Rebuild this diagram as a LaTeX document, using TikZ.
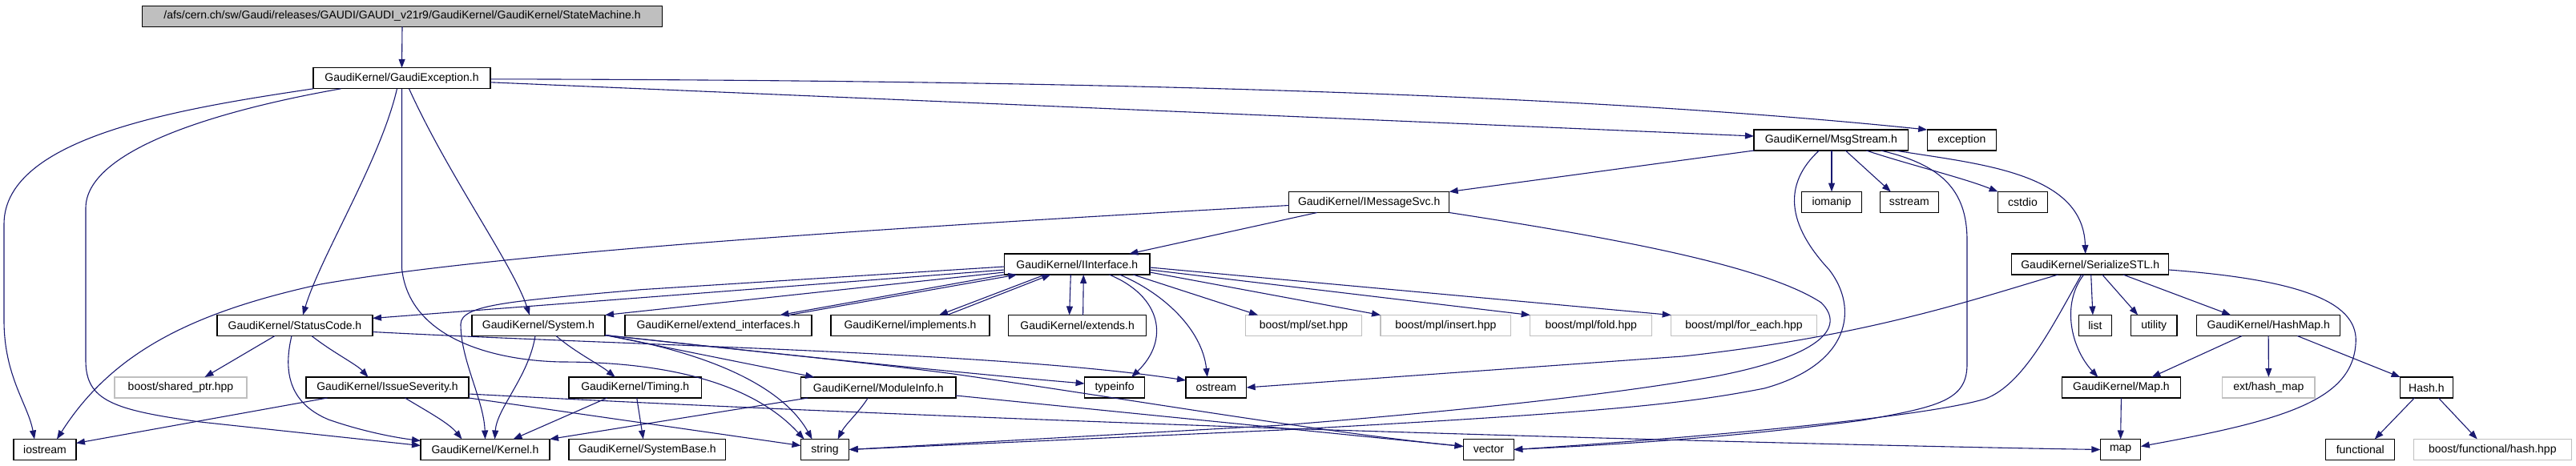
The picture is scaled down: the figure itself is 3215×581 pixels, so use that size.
\documentclass[tikz,border=0pt]{standalone}
\usepackage{fontspec}
\setmainfont{Liberation Sans}
\usetikzlibrary{arrows.meta}
\definecolor{edgec}{RGB}{25,25,112}
\definecolor{grayb}{RGB}{191,191,191}
\begin{document}
\begin{tikzpicture}[x=1pt,y=-1pt,
  box/.style={draw=black,line width=1.1pt,minimum height=26pt,inner sep=0pt,outer sep=0pt,font=\fontsize{14}{16}\selectfont,anchor=center},
  extbox/.style={box,draw=grayb},
  e/.style={draw=edgec,line width=1.1pt,-{Triangle[length=11pt,width=8pt]}},
]
\useasboundingbox (0,0) rectangle (3215,581);
% row 0
\node[box,fill=grayb,minimum width=649pt] (hdr) at (502,20.3) {/afs/cern.ch/sw/Gaudi/releases/GAUDI/GAUDI\_v21r9/GaudiKernel/GaudiKernel/StateMachine.h};
% row A
\node[box,minimum width=221pt] (GE) at (501.5,97.8) {GaudiKernel/GaudiException.h};
% row B
\node[box,minimum width=192.6pt] (MS) at (2285.3,175) {GaudiKernel/MsgStream.h};
\node[box,minimum width=86.3pt] (exc) at (2448.35,175) {exception};
% row C
\node[box,minimum width=200pt] (IMS) at (1708.7,252.5) {GaudiKernel/IMessageSvc.h};
\node[box,minimum width=75pt] (iomanip) at (2286,252.5) {iomanip};
\node[box,minimum width=72.8pt] (sstream) at (2382.8,252.5) {sstream};
\node[box,minimum width=61.8pt] (cstdio) at (2524.5,252.5) {cstdio};
% row D
\node[box,minimum width=181.4pt] (II) at (1344.3,330) {GaudiKernel/IInterface.h};
\node[box,minimum width=196pt] (SS) at (2608.7,330) {GaudiKernel/SerializeSTL.h};
% row E
\node[box,minimum width=194pt] (SC) at (368,406.5) {GaudiKernel/StatusCode.h};
\node[box,minimum width=166pt] (Sys) at (672,406.5) {GaudiKernel/System.h};
\node[box,minimum width=233pt] (EI) at (896.5,406.5) {GaudiKernel/extend\_interfaces.h};
\node[box,minimum width=198pt] (Impl) at (1136,406.5) {GaudiKernel/implements.h};
\node[box,minimum width=171.9pt] (Ext) at (1344.65,406.5) {GaudiKernel/extends.h};
\node[extbox,minimum width=145pt] (mplset) at (1627,406.5) {boost/mpl/set.hpp};
\node[extbox,minimum width=162.7pt] (mplins) at (1804.35,406.5) {boost/mpl/insert.hpp};
\node[extbox,minimum width=152pt] (mplfold) at (1985.7,406.5) {boost/mpl/fold.hpp};
\node[extbox,minimum width=181.6pt] (mplfe) at (2176.5,406.5) {boost/mpl/for\_each.hpp};
\node[box,minimum width=41pt] (list) at (2614.9,406.5) {list};
\node[box,minimum width=57.6pt] (utility) at (2688.2,406.5) {utility};
\node[box,minimum width=179.3pt] (HM) at (2831.15,406.5) {GaudiKernel/HashMap.h};
% row F
\node[extbox,minimum width=165pt] (shp) at (225.5,484) {boost/shared\_ptr.hpp};
\node[box,minimum width=203pt] (IS) at (483.5,484) {GaudiKernel/IssueSeverity.h};
\node[box,minimum width=165.5pt] (Tim) at (792.75,484) {GaudiKernel/Timing.h};
\node[box,minimum width=193.5pt] (MI) at (1096.25,484) {GaudiKernel/ModuleInfo.h};
\node[box,minimum width=75pt] (typeinfo) at (1391.1,484) {typeinfo};
\node[box,minimum width=75.6pt] (ostream) at (1517.8,484) {ostream};
\node[box,minimum width=147.6pt] (Map) at (2647.4,484) {GaudiKernel/Map.h};
\node[extbox,minimum width=115.3pt] (ehm) at (2831.35,484) {ext/hash\_map};
\node[box,minimum width=65.5pt] (Hash) at (3028.35,484) {Hash.h};
% row G
\node[box,minimum width=78pt] (iostream) at (56,561.5) {iostream};
\node[box,minimum width=161pt] (Ker) at (605.5,561.5) {GaudiKernel/Kernel.h};
\node[box,minimum width=195.6pt] (SB) at (807.8,561.5) {GaudiKernel/SystemBase.h};
\node[box,minimum width=60.2pt] (string) at (1029.6,561.5) {string};
\node[box,minimum width=62.8pt] (vector) at (1857.9,561.5) {vector};
\node[box,minimum width=50.4pt] (map) at (2646.6,561.5) {map};
\node[box,minimum width=86.3pt] (functional) at (2945.75,561.5) {functional};
\node[extbox,minimum width=196.9pt] (bfh) at (3110.75,561.5) {boost/functional/hash.hpp};

% ---- edges ----
\draw[e] (hdr.south) -- (GE.north);
% GaudiException
\draw[e] (GE.south west) .. controls (230,135) and (5,170) .. (5,280) -- (5,400) .. controls (5,470) and (35,505) .. ([xshift=-13pt]iostream.north);
\draw[e] ([xshift=-76pt]GE.south) .. controls (260,140) and (107,190) .. (107,260) -- (107,450) .. controls (107,500) and (140,512) .. (250,527) -- ([yshift=5pt]Ker.west);
\draw[e] ([xshift=-6pt]GE.south) .. controls (475,200) and (400,320) .. ([xshift=10pt]SC.north);
\draw[e] (GE.south) -- (501.5,335) .. controls (510,420) and (610,450) .. (700,452) .. controls (860,452) and (950,490) .. ([xshift=-26pt]string.north);
\draw[e] ([xshift=9pt]GE.south) .. controls (560,220) and (640,330) .. ([xshift=-11pt]Sys.north);
\draw[e] ([yshift=-5pt]GE.east) -- ([yshift=5pt]MS.west);
\draw[e] ([yshift=-1pt]GE.east) .. controls (1200,100) and (1900,110) .. (exc.north west);
% MsgStream
\draw[e] (MS.south west) -- (IMS.north east);
\draw[e] ([xshift=0.7pt]MS.south) -- (iomanip.north);
\draw[e] ([xshift=18pt]MS.south) -- ([xshift=-23pt]sstream.north);
\draw[e] ([xshift=44pt]MS.south) .. controls (2380,205) and (2450,222) .. (cstdio.north west);
\draw[e] ([xshift=80pt]MS.south) .. controls (2470,205) and (2600,215) .. ([xshift=-6pt]SS.north);
\draw[e] ([xshift=62pt]MS.south) .. controls (2420,205) and (2455,235) .. (2455,300) -- (2455,455) .. controls (2455,500) and (2420,508) .. (2324,525) .. controls (2150,548) and (2000,556) .. (vector.east);
\draw[e] ([xshift=-15pt]MS.south) .. controls (2225,230) and (2230,280) .. (2283,337) .. controls (2320,385) and (2310,455) .. (2202,485) .. controls (2100,505) and (2000,515) .. (1600,537) -- (string.east);
% IMessageSvc
\draw[e] ([xshift=-65pt]IMS.south) -- ([xshift=65pt]II.north);
\draw[e] ([yshift=-4pt]IMS.west) .. controls (1000,290) and (600,320) .. (400,355) .. controls (240,390) and (140,440) .. ([xshift=15pt]iostream.north);
\draw[e] (IMS.south east) .. controls (2000,295) and (2200,330) .. (2273,378) .. controls (2305,410) and (2270,445) .. (2141,470) .. controls (2000,495) and (1800,515) .. (1600,531) -- (string.east);
% IInterface
\draw[e] (II.south west) -- ([xshift=77pt]EI.north);
\draw[e] ([xshift=88pt]EI.north) -- ([xshift=-75pt]II.south);
\draw[e] ([xshift=-40pt]II.south) -- ([xshift=36pt]Impl.north);
\draw[e] ([xshift=46pt]Impl.north) -- ([xshift=-33pt]II.south);
\draw[e] ([xshift=-8pt]II.south) -- ([xshift=-10pt]Ext.north);
\draw[e] ([xshift=7pt]Ext.north) -- ([xshift=8pt]II.south);
\draw[e] ([xshift=40pt]II.south) .. controls (1450,370) and (1460,425) .. ([xshift=21pt]typeinfo.north);
\draw[e] ([xshift=53pt]II.south) .. controls (1450,365) and (1500,410) .. ([xshift=-11pt]ostream.north);
\draw[e] ([xshift=70pt]II.south) -- ([xshift=-57pt]mplset.north);
\draw[e] ([yshift=-10pt]II.east) -- (mplins.north west);
\draw[e] ([yshift=-7pt]II.east) -- (mplfold.north west);
\draw[e] ([yshift=-4pt]II.east) -- (mplfe.north west);
\draw[e] ([yshift=-3pt]II.west) -- (800,361.7) .. controls (640,376) and (575,380) .. (575,405) .. controls (575,450) and (604,500) .. (Ker.north);
\draw[e] ([yshift=-7pt]II.west) -- ([yshift=9pt]SC.east);
\draw[e] ([yshift=-10pt]II.west) -- (Sys.north east);
% StatusCode
\draw[e] ([xshift=-25pt]SC.south) -- ([xshift=30pt]shp.north);
\draw[e] ([xshift=21pt]SC.south) .. controls (415,440) and (445,455) .. ([xshift=-24pt]IS.north);
\draw[e] ([xshift=-4pt]SC.south) .. controls (352,470) and (365,505) .. (410,524) .. controls (450,538) and (490,546) .. ([yshift=-2pt]Ker.north west);
\draw[e] ([yshift=-8pt]SC.east) .. controls (800,432) and (1250,440) .. ([yshift=9pt]ostream.west);
% IssueSeverity
\draw[e] ([xshift=-75pt]IS.south) -- ([yshift=8pt]iostream.east);
\draw[e] ([xshift=22pt]IS.south) .. controls (530,512) and (560,528) .. ([xshift=-29pt]Ker.north);
\draw[e] (IS.south east) -- ([yshift=5pt]string.west);
\draw[e] ([yshift=-8pt]IS.east) .. controls (700,498) and (1000,514) .. (1600,535) .. controls (2000,548) and (2400,558) .. (map.west);
% System
\draw[e] ([xshift=-4pt]Sys.south) .. controls (660,470) and (620,510) .. ([xshift=12pt]Ker.north);
\draw[e] ([xshift=22pt]Sys.south) .. controls (718,440) and (748,455) .. ([xshift=-25pt]Tim.north);
\draw[e] ([yshift=-12pt]Sys.east) .. controls (950,440) and (1200,466) .. ([yshift=5pt]typeinfo.west);
\draw[e] ([yshift=-12pt]Sys.east) -- ([xshift=-80pt]MI.north);
\draw[e] ([yshift=-12pt]Sys.east) .. controls (880,440) and (975,480) .. ([xshift=-16pt]string.north);
\draw[e] ([yshift=-12pt]Sys.east) .. controls (1000,445) and (1100,455) .. (1190,467) .. controls (1400,497) and (1650,540) .. ([yshift=4pt]vector.west);
% Timing
\draw[e] ([xshift=-35pt]Tim.south) -- ([xshift=35pt]Ker.north);
\draw[e] ([xshift=2pt]Tim.south) -- ([xshift=-5pt]SB.north);
% ModuleInfo
\draw[e] ([xshift=-88pt]MI.south) -- (Ker.north east);
\draw[e] ([xshift=-13pt]MI.south) .. controls (1072,515) and (1055,530) .. ([xshift=16pt]string.north);
\draw[e] ([yshift=-10pt]MI.east) -- ([yshift=4pt]vector.west);
% SerializeSTL
\draw[e] ([xshift=-40pt]SS.south) .. controls (2460,375) and (2330,420) .. (2100,445) -- (ostream.east);
\draw[e] ([xshift=-11pt]SS.south) .. controls (2560,410) and (2525,480) .. (2478,498) .. controls (2400,522) and (2100,548) .. (vector.east);
\draw[e] ([xshift=-8pt]SS.south) .. controls (2572,380) and (2585,435) .. ([xshift=-29pt]Map.north);
\draw[e] ([xshift=1pt]SS.south) -- ([xshift=-3pt]list.north);
\draw[e] ([xshift=15pt]SS.south) -- ([xshift=-20pt]utility.north);
\draw[e] ([xshift=41pt]SS.south) -- ([xshift=-47pt]HM.north);
\draw[e] ([yshift=-7pt]SS.east) .. controls (2880,350) and (2945,380) .. (2940,430) .. controls (2935,500) and (2850,525) .. ([yshift=4pt]map.east);
% HashMap, Map, Hash
\draw[e] ([xshift=-33pt]HM.south) -- ([xshift=38pt]Map.north);
\draw[e] (HM.south) -- (ehm.north);
\draw[e] ([xshift=36pt]HM.south) -- (Hash.north west);
\draw[e] (Map.south) -- (map.north);
\draw[e] ([xshift=-15pt]Hash.south) -- ([xshift=18pt]functional.north);
\draw[e] ([xshift=15pt]Hash.south) -- ([xshift=-19pt]bfh.north);
\end{tikzpicture}
\end{document}
